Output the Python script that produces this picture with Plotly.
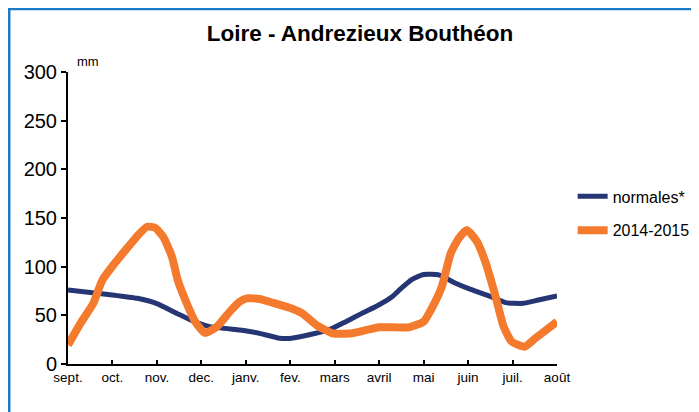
import plotly.graph_objects as go

# Month tick labels (positions 0..11)
months = ["sept.", "oct.", "nov.", "dec.", "janv.", "fev.", "mars", "avril", "mai", "juin", "juil.", "août"]
month_pos = list(range(12))

# Normales (month position, mm)
norm_t = [0, 1.0, 1.56, 2.0, 2.45, 2.9, 3.19, 3.86, 4.02, 4.31, 4.76, 5.03, 5.5, 5.87, 6.25, 6.61,
          6.99, 7.29, 7.5, 7.74, 8.0, 8.34, 8.72, 9.0, 9.53, 9.84, 10.24, 10.58, 11.0]
norm_v = [76, 71, 67.5, 62, 52, 42.5, 38.4, 35, 34, 31.5, 26.5, 26.5, 30.8, 35, 43.5, 52,
          60.6, 69, 78, 87, 92, 91.5, 83, 77.7, 69, 63, 62.3, 65.8, 70]

# 2014-2015 (month position, mm)
obs_t = [0, 0.28, 0.57, 0.77, 1.02, 1.33, 1.58, 1.78, 1.96, 2.14, 2.34, 2.47, 2.67, 2.86, 3.08,
         3.35, 3.64, 3.86, 4.02, 4.31, 4.6, 5.03, 5.27, 5.59, 5.95, 6.39, 7.0, 7.67, 8.0, 8.18,
         8.41, 8.61, 8.79, 8.97, 9.2, 9.4, 9.62, 9.8, 9.98, 10.27, 10.51, 10.76, 11.0]
obs_v = [19.5, 41.8, 62.4, 86, 101.7, 119, 132.6, 141, 140, 130.8, 110, 86, 62.4, 43.5, 32,
         38.4, 53.8, 64, 67.5, 66.8, 63, 57, 52, 40, 31.5, 31.5, 37.7, 37.7, 43.5, 57,
         79.5, 113.8, 129, 137.7, 125.7, 103.4, 69, 38.4, 23, 17.8, 26.3, 35, 43.5]

y_ticks = [0, 50, 100, 150, 200, 250, 300]

NAVY = "#263574"
ORANGE = "#f47a2e"
BLUE_BORDER = "#1a7ac4"
FONT = "Liberation Sans, Arial, sans-serif"

fig = go.Figure()
fig.add_trace(go.Scatter(x=norm_t, y=norm_v, mode="lines", name="normales*",
                         line=dict(color=NAVY, width=5, shape="spline", smoothing=0.5),
                         legendgroup="a"))
fig.add_trace(go.Scatter(x=obs_t, y=obs_v, mode="lines", name="2014-2015",
                         line=dict(color=ORANGE, width=8, shape="spline", smoothing=0.5),
                         legendgroup="b"))

fig.update_layout(
    width=699, height=412,
    margin=dict(l=60, r=148, t=64, b=56),
    paper_bgcolor="white", plot_bgcolor="white",
    font=dict(family=FONT, color="black"),
    title=dict(text="<b>Loire - Andrezieux Bouthéon</b>", x=352 / 699, xref="container", xanchor="center",
               y=1 - 25 / 412, yref="container", yanchor="middle",
               font=dict(size=22.5, family=FONT, color="black")),
    showlegend=True,
    legend=dict(x=1.032, xanchor="left", y=0.632, yanchor="top", tracegroupgap=10,
                font=dict(size=16, family=FONT, color="black"), bgcolor="rgba(0,0,0,0)"),
    xaxis=dict(range=[0, 11], tickmode="array", tickvals=month_pos, ticktext=months,
               showgrid=False, zeroline=False, showline=True, linecolor="black", linewidth=2,
               ticks="inside", ticklen=4, tickwidth=2, tickcolor="black",
               tickfont=dict(size=13.5, family=FONT, color="black"), fixedrange=True),
    yaxis=dict(range=[0, 300], tickmode="array", tickvals=y_ticks,
               showgrid=False, zeroline=False, showline=True, linecolor="black", linewidth=2,
               ticks="outside", ticklen=5, tickwidth=2, tickcolor="black",
               tickfont=dict(size=20, family=FONT, color="black"), fixedrange=True),
    annotations=[dict(text="mm", xref="paper", yref="paper", x=0.04, y=1.036,
                      xanchor="center", yanchor="middle",
                      showarrow=False, font=dict(size=13, family=FONT, color="black"))],
    shapes=[
        dict(type="line", xref="paper", yref="paper", x0=-0.1202, x1=1.35, y0=1.2158, y1=1.2158,
             line=dict(color=BLUE_BORDER, width=2.5)),
        dict(type="line", xref="paper", yref="paper", x0=-0.1202, x1=-0.1202, y0=1.22, y1=-0.2,
             line=dict(color=BLUE_BORDER, width=2.5)),
    ],
)

fig.write_html("out.html")
